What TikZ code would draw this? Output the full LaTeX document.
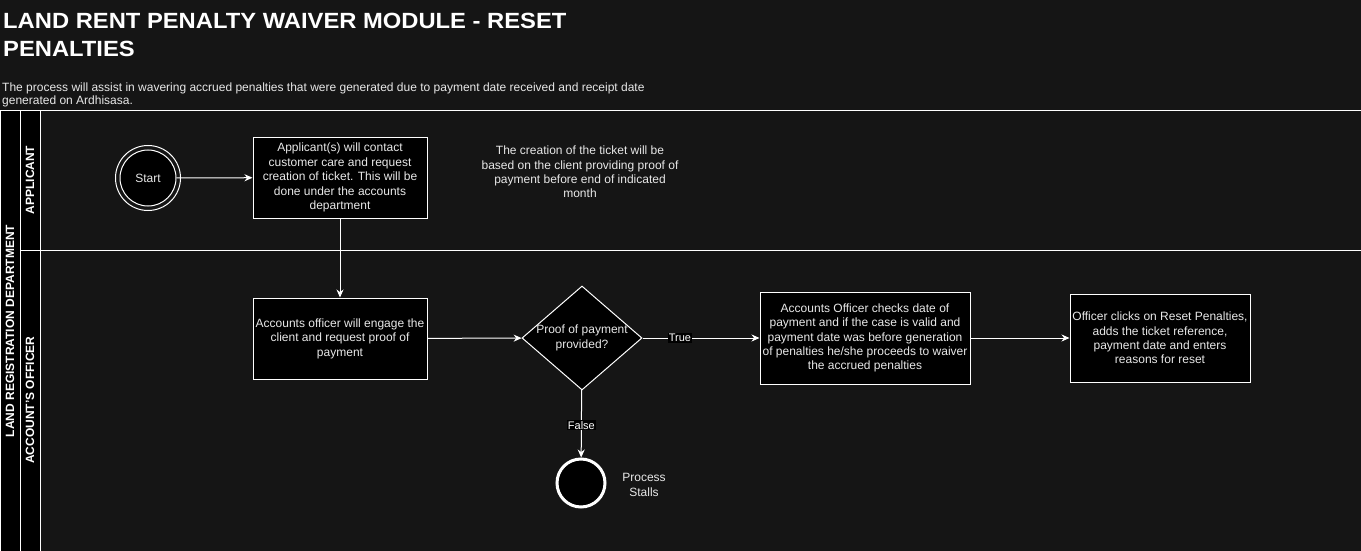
\documentclass[tikz,border=0pt]{standalone}
\usepackage{fontspec}
\setmainfont{Liberation Sans}
\usetikzlibrary{arrows.meta}
\usetikzlibrary{shapes.geometric}
\definecolor{bgcol}{RGB}{21, 21, 21}
\definecolor{txtcol}{RGB}{232, 232, 232}
\newcommand{\widetitle}[1]{\scalebox{1.08}[1]{#1}}

\tikzset{
  task/.style={draw=white,fill=black,text=txtcol,align=center,
    font=\fontsize{12}{14.4}\selectfont,inner sep=1pt,line width=1pt},
  plain/.style={text=txtcol,align=center,font=\fontsize{12}{14.4}\selectfont,inner sep=0pt},
  lanelabel/.style={rotate=90,text=white,font=\bfseries\fontsize{12}{14}\selectfont,inner sep=0pt},
  flow/.style={draw=white,line width=1pt,-{Stealth[length=8pt,width=7pt]}},
  guard/.style={fill=black,text=white,font=\fontsize{11}{13}\selectfont,inner sep=1pt}
}

\begin{document}
\begin{tikzpicture}[x=1pt,y=-1pt]
  \useasboundingbox (0,0) rectangle (1361,551);
  \fill[bgcol] (0,0) rectangle (1361,551);

  % heading
  \node[anchor=north west,align=left,text=white,inner sep=0pt,
    font=\bfseries\fontsize{22}{28.6}\selectfont] (title) at (3,12.7)
    {\widetitle{LAND RENT PENALTY WAIVER MODULE - RESET}\\\widetitle{PENALTIES}};
  \node[anchor=north west,align=left,text=txtcol,inner sep=0pt,
    font=\fontsize{12}{12.5}\selectfont] (intro) at (2,83)
    {The process will assist in wavering accrued penalties that were generated due to payment date received and receipt date\\generated on Ardhisasa.};

  % pool and lanes
  \fill[black] (0,110) rectangle (40,551);
  \draw[white,line width=1pt] (0,110) -- (1361,110);
  \draw[white,line width=1pt] (20,250) -- (1361,250);
  \draw[white,line width=1pt] (0.5,110) -- (0.5,551);
  \draw[white,line width=1pt] (20,110) -- (20,551);
  \draw[white,line width=1pt] (40,110) -- (40,551);
  \node[lanelabel] (pool) at (10,331) {LAND REGISTRATION DEPARTMENT};
  \node[lanelabel] (applicant) at (30,180) {APPLICANT};
  \node[lanelabel] (officer) at (30,400) {ACCOUNT'S OFFICER};

  % applicant lane
  \node[circle,draw=white,fill=black,text=txtcol,line width=1pt,minimum size=56pt,
    font=\fontsize{12}{14.4}\selectfont] (start) at (148,178) {Start};
  \draw[white,line width=1pt] (start.center) circle (32.5);
  \node[task,minimum width=174pt,minimum height=81pt] (contact) at (340,177.5)
    {Applicant(s) will contact\\customer care and request\\creation of ticket. This will be\\done under the accounts\\department};
  \node[plain] (cond) at (580,172)
    {The creation of the ticket will be\\based on the client providing proof of\\payment before end of indicated\\month};

  % accounts officer lane
  \node[task,minimum width=174pt,minimum height=81pt] (engage) at (340,338.5)
    {Accounts officer will engage the\\client and request proof of\\payment};
  \node[diamond,draw=white,fill=black,line width=1pt,minimum width=120pt,
    minimum height=104pt,inner sep=0pt] (proof) at (582,338) {};
  \node[plain] (prooftxt) at (proof) {Proof of payment\\provided?};
  \node[task,minimum width=210pt,minimum height=92pt] (check) at (865,338)
    {Accounts Officer checks date of\\payment and if the case is valid and\\payment date was before generation\\of penalties he/she proceeds to waiver\\the accrued penalties};
  \node[task,minimum width=180pt,minimum height=88pt] (reset) at (1160,338)
    {Officer clicks on Reset Penalties,\\adds the ticket reference,\\payment date and enters\\reasons for reset};
  \node[circle,draw=white,fill=black,line width=3pt,minimum size=48pt] (stall) at (581,483) {};
  \node[plain] (stalltxt) at (644,485) {Process\\Stalls};

  % flows
  \draw[flow] (start) -- (contact);
  \draw[flow] (contact) -- (engage);
  \draw[flow] (engage) -- (proof);
  \draw[flow] (proof) -- node[guard,pos=0.32] {True} (check);
  \draw[flow] (check) -- (reset);
  \draw[flow] (proof) -- node[guard,pos=0.52] {False} (stall);
\end{tikzpicture}
\end{document}
